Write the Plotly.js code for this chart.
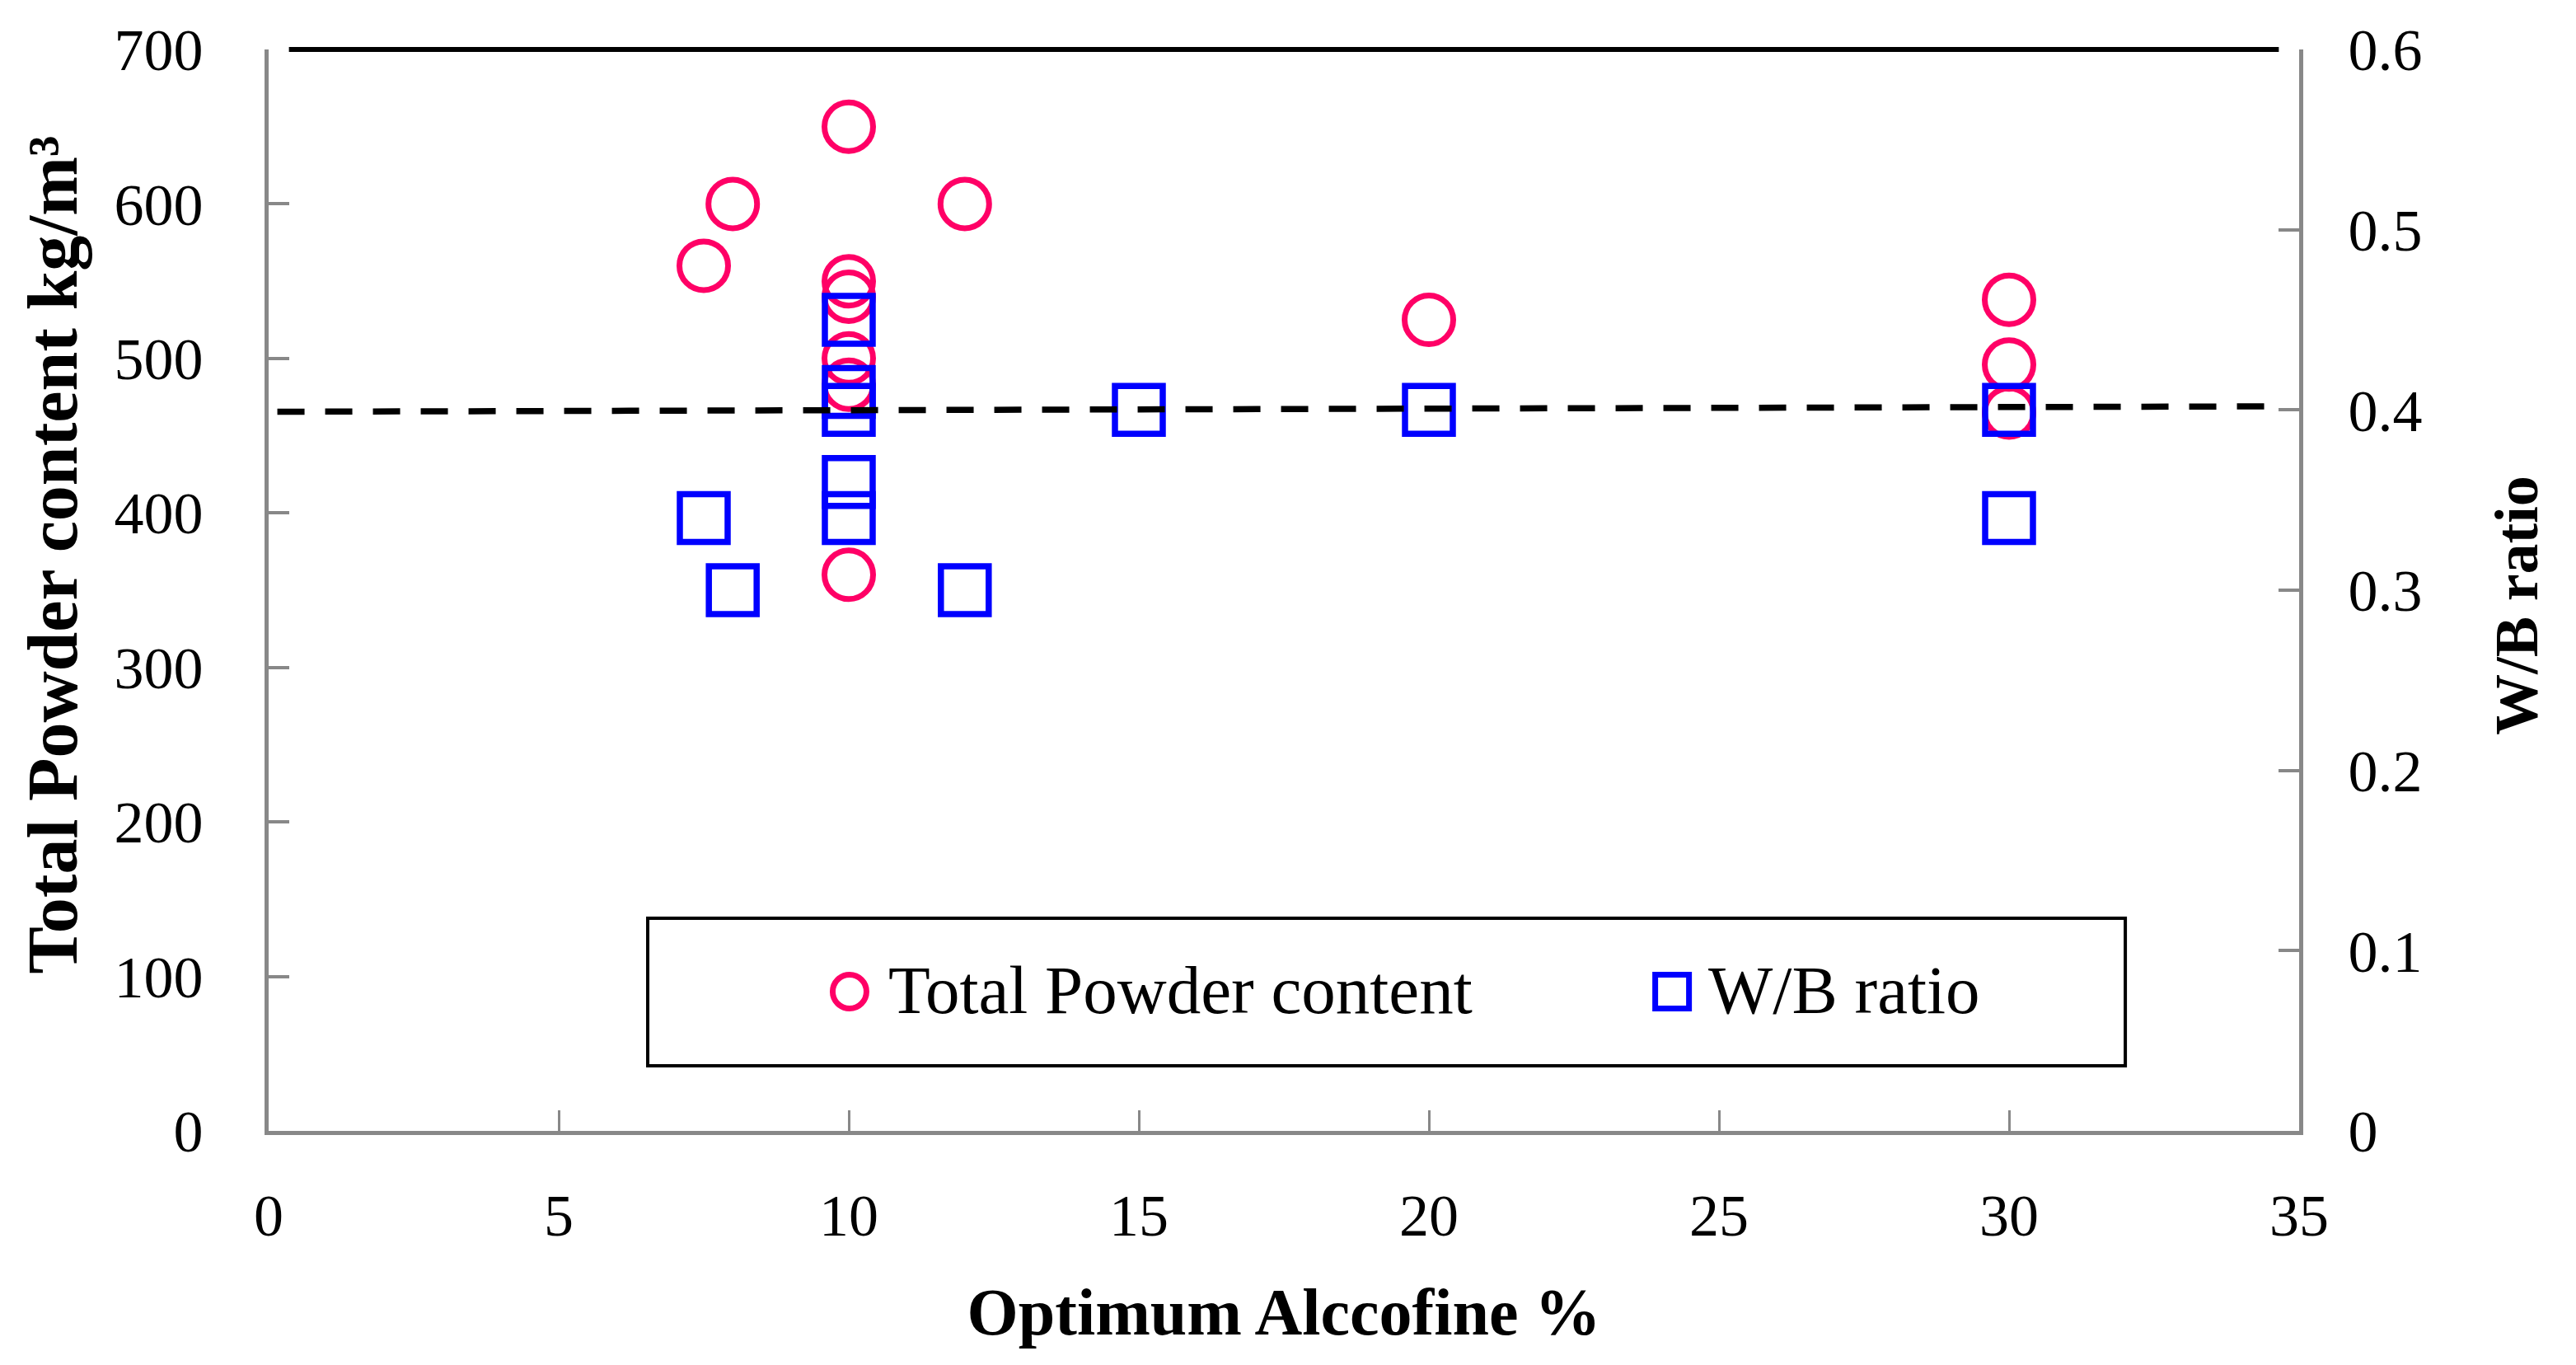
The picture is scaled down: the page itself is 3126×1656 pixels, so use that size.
<!DOCTYPE html>
<html>
<head>
<meta charset="utf-8">
<script src="https://cdn.plot.ly/plotly-3.0.1.min.js"></script>
<style>html,body{margin:0;padding:0;background:#fff;}#chart{width:3126px;height:1656px;}</style>
</head>
<body>
<div id="chart"></div>
<script>
// Total Powder content (kg/m3) vs Optimum Alccofine %
const powderX = [7.5, 8, 10, 10, 10, 10, 10, 10, 12, 20, 30, 30, 30];
const powderY = [560, 600, 650, 550, 540, 500, 483, 360, 600, 525, 538, 496, 465];
// W/B ratio vs Optimum Alccofine %
const wbX = [7.5, 8, 10, 10, 10, 10, 10, 12, 15, 20, 30, 30];
const wbY = [0.34, 0.30, 0.45, 0.41, 0.40, 0.36, 0.34, 0.30, 0.40, 0.40, 0.40, 0.34];
// Dashed reference line (W/B axis)
const refX = [0.15, 34.6];
const refY = [0.399, 0.402];
// Axis ticks
const xTicks = [0, 5, 10, 15, 20, 25, 30, 35];
const yTicks = [0, 100, 200, 300, 400, 500, 600, 700];
const y2Ticks = [0, 0.1, 0.2, 0.3, 0.4, 0.5, 0.6];
const names = ['Total Powder content', 'W/B ratio'];

const FONT = 'Liberation Serif, Times New Roman, serif';
const PINK = '#FF0066';
const BLUE = '#0000FF';
const GRAY = '#888888';
const NB = '\u00A0';

const traces = [
  {
    x: powderX, y: powderY, name: names[0], type: 'scatter', mode: 'markers',
    xaxis: 'x', yaxis: 'y',
    marker: {symbol: 'circle-open', size: 59, color: PINK, line: {width: 7, color: PINK}}
  },
  {
    x: wbX, y: wbY, name: names[1], type: 'scatter', mode: 'markers',
    xaxis: 'x', yaxis: 'y2',
    marker: {symbol: 'square-open', size: 58, color: BLUE, line: {width: 7.5, color: BLUE}}
  },
  {
    x: refX, y: refY, type: 'scatter', mode: 'lines', showlegend: false,
    xaxis: 'x', yaxis: 'y2',
    line: {color: '#000000', width: 7.5, dash: '33px,25px'}
  }
];

const legY = 0.1305;
const layout = {
  width: 3126, height: 1656,
  margin: {l: 326, r: 336, t: 60, b: 284, pad: 0},
  paper_bgcolor: '#ffffff', plot_bgcolor: '#ffffff',
  showlegend: false,
  font: {family: FONT, color: '#000000', size: 72},
  xaxis: {
    range: [0, 35], tickvals: xTicks, ticktext: xTicks.map(String),
    showgrid: false, zeroline: false,
    showline: true, linecolor: GRAY, linewidth: 5,
    ticks: 'inside', ticklen: 25, tickwidth: 3, tickcolor: GRAY,
    tickfont: {family: FONT, size: 72, color: '#000'},
    ticklabelstandoff: 36,
    title: {text: '<b>Optimum Alccofine %</b>', font: {family: FONT, size: 80, color: '#000'}, standoff: 50}
  },
  yaxis: {
    range: [0, 700], tickvals: yTicks, ticktext: yTicks.map(String),
    showgrid: false, zeroline: false,
    showline: true, linecolor: GRAY, linewidth: 5,
    ticks: 'inside', ticklen: 25, tickwidth: 4, tickcolor: GRAY,
    tickfont: {family: FONT, size: 72, color: '#000'},
    ticklabelstandoff: 60,
    title: {text: '<b>' + NB + NB + NB + NB + 'Total Powder content kg/m³</b>', font: {family: FONT, size: 86, color: '#000'}, standoff: 18}
  },
  yaxis2: {
    range: [0, 0.6], tickvals: y2Ticks, ticktext: y2Ticks.map(String),
    overlaying: 'y', side: 'right',
    showgrid: false, zeroline: false,
    showline: true, linecolor: GRAY, linewidth: 5,
    ticks: 'inside', ticklen: 25, tickwidth: 4, tickcolor: GRAY,
    tickfont: {family: FONT, size: 72, color: '#000'},
    ticklabelstandoff: 40,
    title: {text: '<b>W/B ratio' + NB + NB + '</b>', font: {family: FONT, size: 74, color: '#000'}, standoff: 90}
  },
  shapes: [
    {type: 'line', xref: 'paper', yref: 'paper', x0: 0.01, x1: 0.99, y0: 1, y1: 1,
     line: {color: '#000000', width: 6}},
    {type: 'rect', xref: 'paper', yref: 'paper', x0: 0.1867, x1: 0.9144, y0: 0.0602, y1: 0.1966,
     line: {color: '#000000', width: 4}, fillcolor: '#ffffff', layer: 'above'},
    {type: 'circle', xref: 'paper', yref: 'paper', xsizemode: 'pixel', ysizemode: 'pixel',
     xanchor: 0.2861, yanchor: 0.1288, x0: -20.5, x1: 20.5, y0: -20.5, y1: 20.5,
     line: {color: PINK, width: 7}, layer: 'above'},
    {type: 'rect', xref: 'paper', yref: 'paper', xsizemode: 'pixel', ysizemode: 'pixel',
     xanchor: 0.6912, yanchor: 0.1288, x0: -20.5, x1: 20.5, y0: -20.5, y1: 20.5,
     line: {color: BLUE, width: 7}, layer: 'above'}
  ],
  annotations: [
    {xref: 'paper', yref: 'paper', x: 0.3044, y: legY, xanchor: 'left', yanchor: 'middle',
     text: names[0], showarrow: false, font: {family: FONT, size: 83, color: '#000'}},
    {xref: 'paper', yref: 'paper', x: 0.7082, y: legY, xanchor: 'left', yanchor: 'middle',
     text: names[1], showarrow: false, font: {family: FONT, size: 83, color: '#000'}}
  ]
};

Plotly.newPlot('chart', traces, layout, {displayModeBar: false, staticPlot: true});
</script>
</body>
</html>
